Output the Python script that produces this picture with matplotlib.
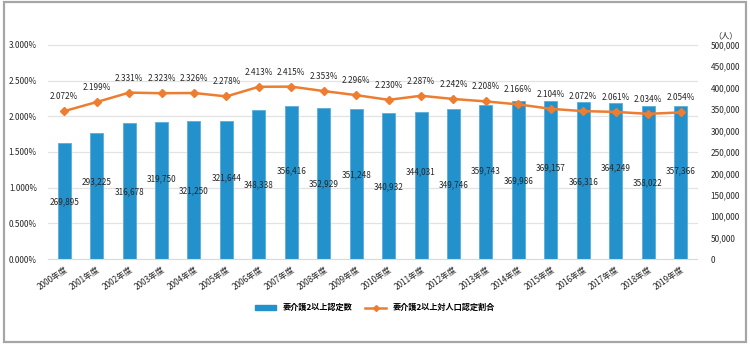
import numpy as np
import matplotlib
matplotlib.use("Agg")
import matplotlib.pyplot as plt
from matplotlib.patches import Rectangle
from matplotlib.lines import Line2D
from matplotlib.ticker import FuncFormatter

plt.rcParams['font.family'] = ['Noto Sans CJK JP', 'DejaVu Sans']

years = ["2000年度", "2001年度", "2002年度", "2003年度", "2004年度", "2005年度", "2006年度",
         "2007年度", "2008年度", "2009年度", "2010年度", "2011年度", "2012年度", "2013年度",
         "2014年度", "2015年度", "2016年度", "2017年度", "2018年度", "2019年度"]
counts = [269895, 293225, 316678, 319750, 321250, 321644, 348338, 356416, 352929, 351248,
          340932, 344031, 349746, 359743, 369986, 369157, 366316, 364249, 358022, 357366]
ratio = [2.072, 2.199, 2.331, 2.323, 2.326, 2.278, 2.413, 2.415, 2.353, 2.296,
         2.230, 2.287, 2.242, 2.208, 2.166, 2.104, 2.072, 2.061, 2.034, 2.054]

# heights (right-axis units) where the count labels sit inside the bars
count_label_y = [133000, 180000, 156000, 187000, 159000, 189000, 173000, 205000, 175000, 196000,
                 168000, 203000, 173000, 206000, 182000, 212000, 180000, 212000, 177000, 207000]

bar_color = '#2391CB'
line_color = '#ED7D31'
text_color = '#262626'
fs = 5.9

fig = plt.figure(figsize=(7.5, 3.45), dpi=100)
fig.patches.append(Rectangle((0.005, 0.008), 0.99, 0.985, transform=fig.transFigure,
                             fill=False, edgecolor='#A6A6A6', linewidth=1.6))

ax = fig.add_axes([0.064, 0.249, 0.865, 0.621])
ax2 = ax.twinx()
ax.set_zorder(ax2.get_zorder() + 1)
ax.patch.set_visible(False)

x = np.arange(len(years))
ax2.bar(x, counts, width=0.4, color=bar_color, edgecolor='#5AAEDB', linewidth=0.6, zorder=2)
for xi, c, ly in zip(x, counts, count_label_y):
    ax2.text(xi, ly, f"{c:,}", ha='center', va='center', fontsize=fs, color=text_color, zorder=3)

ax.plot(x, ratio, color=line_color, linewidth=1.8, marker='D', markersize=4, zorder=4)
for xi, r in zip(x, ratio):
    ax.text(xi, r + 0.14, f"{r:.3f}%", ha='center', va='bottom', fontsize=fs, color=text_color)

ax.set_xlim(-0.5, len(years) - 0.5)
ax.set_ylim(0, 3.0)
ax.set_yticks(np.arange(0, 3.01, 0.5))
ax.yaxis.set_major_formatter(FuncFormatter(lambda v, p: f"{v:.3f}%"))
ax2.set_ylim(0, 500000)
ax2.set_yticks(np.arange(0, 500001, 50000))
ax2.yaxis.set_major_formatter(FuncFormatter(lambda v, p: f"{int(v):,}"))

# horizontal grid follows the left (percent) ticks, drawn behind the bars
for k in range(1, 7):
    ax2.axhline(k * 500000 / 6, color='#E3E3E3', linewidth=0.9, zorder=0, clip_on=False)

ax.set_xticks(x)
ax.set_xticklabels(years, rotation=35, ha='right', rotation_mode='anchor', fontsize=fs, color=text_color)
for a in (ax, ax2):
    for s in a.spines.values():
        s.set_visible(False)
    a.tick_params(length=0, labelsize=fs, colors=text_color)
ax.spines['bottom'].set_visible(True)
ax.spines['bottom'].set_color('#D9D9D9')
ax.tick_params(axis='y', pad=8)
ax.tick_params(axis='x', pad=4)
ax2.tick_params(axis='y', pad=10)

ax2.text(1.025, 1.02, "（人）", transform=ax2.transAxes, ha='left', va='bottom', fontsize=fs, color=text_color)

handles = [Rectangle((0, 0), 1, 1, color=bar_color),
           Line2D([0], [0], color=line_color, linewidth=1.8, marker='D', markersize=3)]
fig.legend(handles, ["要介護2以上認定数", "要介護2以上対人口認定割合"], loc='center',
           bbox_to_anchor=(0.5, 0.108), ncol=2, frameon=False,
           handlelength=2.6, handleheight=0.5, columnspacing=1.5,
           prop={'size': fs, 'weight': 'bold'})

fig.savefig('out.png', dpi=100)
